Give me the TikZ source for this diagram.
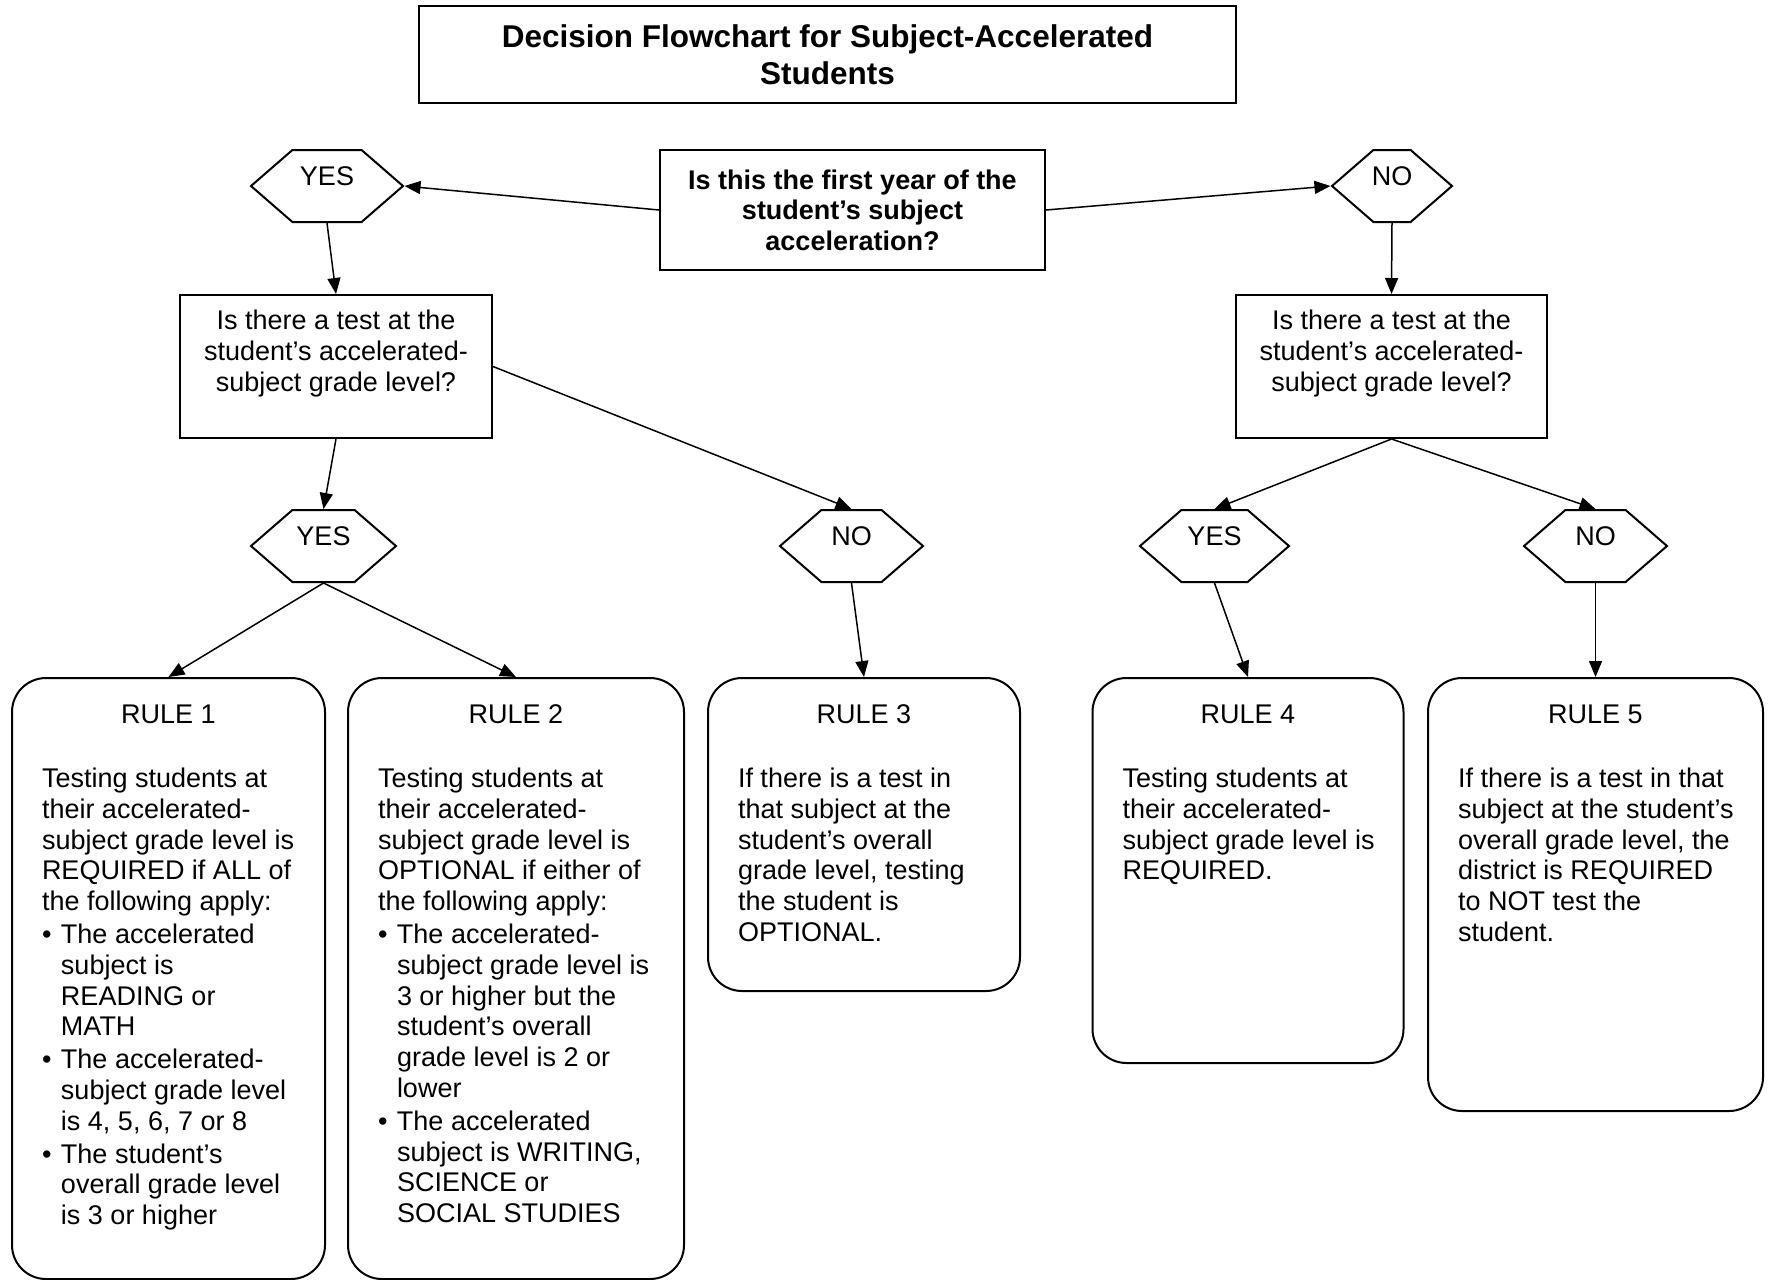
\documentclass[tikz,border=0pt]{standalone}
\usepackage{fontspec}
\setmainfont{Liberation Sans}
\usetikzlibrary{shapes.symbols,arrows.meta}
\newcommand\inbox[4]{\parbox[c][#2][t]{#1}{\vspace*{#3}#4}}
\newcommand\bitem{\par\vspace{1pt}\hangindent=9.5pt\hangafter=1\noindent\makebox[9.5pt][l]{\textbullet}}
\newcommand\rulebody{\raggedright\leftskip=15pt\strut}
\begin{document}
\begin{tikzpicture}[x=0.5pt,y=-0.5pt,
  every node/.style={font=\fontsize{13.5pt}{15.4pt}\selectfont},
  sqbox/.style={draw, line width=1pt, rectangle, inner sep=0pt},
  rulebox/.style={draw, line width=1pt, rectangle, rounded corners=17pt, inner sep=0pt},
  hexa/.style={draw, line width=1pt, shape=signal, signal to=east and west,
    signal pointer angle=82, inner sep=0pt, minimum height=36pt,
    label={[yshift=4.75pt]center:#1}},
  arr/.style={-{Triangle[length=8pt,width=6.5pt]}, line width=0.75pt}]
\useasboundingbox (0,0) rectangle (1773,1280);

% title
\node[sqbox, minimum width=408.5pt, minimum height=48.5pt, align=center,
  font=\fontsize{15.75pt}{18.5pt}\selectfont\bfseries] (title) at (827.5,54.5)
  {Decision Flowchart for Subject-Accelerated\\Students};

% first question
\node[sqbox, minimum width=192.5pt, minimum height=60pt, align=center,
  font=\fontsize{13.5pt}{15.2pt}\selectfont\bfseries] (q0) at (852.5,210)
  {Is this the first year of the\\student’s subject\\acceleration?};

\node[hexa=YES, minimum width=76pt] (y1) at (327,186) {};
\node[hexa=NO, minimum width=60pt] (n1) at (1392,186) {};

% second questions
\node[sqbox, minimum width=156pt, minimum height=71.5pt] (qL) at (336,366.5)
  {\inbox{156pt}{71.5pt}{6.7pt}{\centering\strut Is there a test at the\\student’s accelerated-\\subject grade level?}};
\node[sqbox, minimum width=155.5pt, minimum height=71.5pt] (qR) at (1391.5,366.5)
  {\inbox{155.5pt}{71.5pt}{6.7pt}{\centering\strut Is there a test at the\\student’s accelerated-\\subject grade level?}};

\node[hexa=YES, minimum width=72.5pt] (y2) at (323.5,546) {};
\node[hexa=NO, minimum width=71.5pt] (n2) at (851.5,546) {};
\node[hexa=YES, minimum width=74.5pt] (y3) at (1214.5,546) {};
\node[hexa=NO, minimum width=71.5pt] (n3) at (1595.5,546) {};

% rules
\node[rulebox, minimum width=156.5pt, minimum height=300.5pt] (r1) at (168.5,978.5)
  {\inbox{156.5pt}{300.5pt}{12.2pt}{{\centering\strut RULE 1\par}\vspace{16.4pt}%
  \rulebody Testing students at\newline their accelerated-\newline subject grade level is\newline
  REQUIRED if ALL of\newline the following apply:%
  \bitem The accelerated\newline subject is\newline READING or\newline MATH%
  \bitem The accelerated-\newline subject grade level\newline is 4, 5, 6, 7 or 8%
  \bitem The student’s\newline overall grade level\newline is 3 or higher\par}};

\node[rulebox, minimum width=168pt, minimum height=300.5pt] (r2) at (516,978.5)
  {\inbox{168pt}{300.5pt}{12.2pt}{{\centering\strut RULE 2\par}\vspace{16.4pt}%
  \rulebody Testing students at\newline their accelerated-\newline subject grade level is\newline
  OPTIONAL if either of\newline the following apply:%
  \bitem The accelerated-\newline subject grade level is\newline 3 or higher but the\newline
  student’s overall\newline grade level is 2 or\newline lower%
  \bitem The accelerated\newline subject is WRITING,\newline SCIENCE or\newline SOCIAL STUDIES\par}};

\node[rulebox, minimum width=156pt, minimum height=156.5pt] (r3) at (864,834.5)
  {\inbox{156pt}{156.5pt}{12.2pt}{{\centering\strut RULE 3\par}\vspace{16.4pt}%
  \rulebody If there is a test in\newline that subject at the\newline student’s overall\newline
  grade level, testing\newline the student is\newline OPTIONAL.\par}};

\node[rulebox, minimum width=155.5pt, minimum height=192.5pt] (r4) at (1248,870.5)
  {\inbox{155.5pt}{192.5pt}{12.2pt}{{\centering\strut RULE 4\par}\vspace{16.4pt}%
  \rulebody Testing students at\newline their accelerated-\newline subject grade level is\newline
  REQUIRED.\par}};

\node[rulebox, minimum width=167.5pt, minimum height=216.5pt] (r5) at (1595.5,894.5)
  {\inbox{167.5pt}{216.5pt}{12.2pt}{{\centering\strut RULE 5\par}\vspace{16.4pt}%
  \rulebody If there is a test in that\newline subject at the student’s\newline overall grade level, the\newline
  district is REQUIRED\newline to NOT test the\newline student.\par}};

% connectors
\draw[arr] (q0.west) -- (y1.east);
\draw[arr] (q0.east) -- (n1.west);
\draw[arr] (y1.south) -- (qL.north);
\draw[arr] (n1.south) -- (qR.north);
\draw[arr] (qL.south) -- (y2.north);
\draw[arr] (qL.east) -- (n2.north);
\draw[arr] (qR.south) -- (y3.north);
\draw[arr] (qR.south) -- (n3.north);
\draw[arr] (y2.south) -- (r1.north);
\draw[arr] (y2.south) -- (r2.north);
\draw[arr] (n2.south) -- (r3.north);
\draw[arr] (y3.south) -- (r4.north);
\draw[arr] (n3.south) -- (r5.north);
\end{tikzpicture}
\end{document}
